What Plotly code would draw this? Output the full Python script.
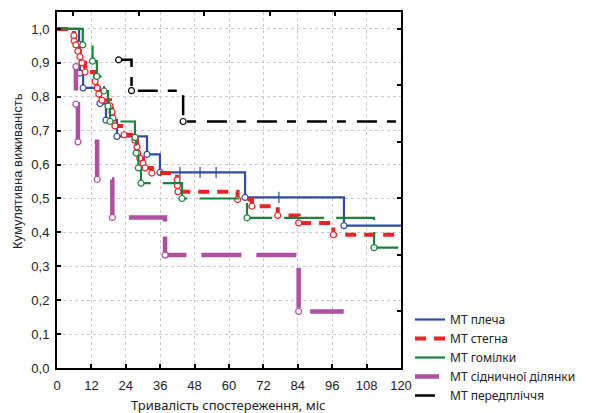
import plotly.graph_objects as go

# ---- data ----
blue_t = [0, 7.7, 8.0, 9.1, 15.0, 17.1, 20.9, 31.4, 35.9, 65.6, 100.1, 120]
blue_s = [1.0, 0.955, 0.87, 0.826, 0.78, 0.731, 0.683, 0.63, 0.577, 0.503, 0.42, 0.42]
blue_cens_t = [42.9, 49.9, 55.5, 77.4]
blue_cens_s = [0.577, 0.577, 0.577, 0.503]

red_t = [0, 5.9, 6.0, 6.6, 7.3, 8.0, 8.7, 9.8, 13.3, 14.0, 14.6, 15.7, 18.5, 19.2, 19.5,
         20.2, 23.4, 27.2, 27.9, 28.2, 28.9, 30.0, 30.7, 33.1, 41.9, 42.0, 42.2, 63.0,
         68.0, 77.0, 84.3, 96.4, 120]
red_s = [1.0, 0.98, 0.965, 0.953, 0.935, 0.918, 0.9, 0.873, 0.845, 0.826, 0.808, 0.79,
         0.773, 0.755, 0.737, 0.714, 0.688, 0.672, 0.652, 0.634, 0.619, 0.604, 0.59,
         0.575, 0.555, 0.538, 0.52, 0.497, 0.477, 0.45, 0.428, 0.393, 0.393]

green_t = [0, 9.0, 12.4, 13.9, 16.4, 17.8, 18.5, 27.2, 27.6, 28.4, 29.3, 43.6, 66.3, 110.6, 120]
green_s = [1.0, 0.953, 0.905, 0.86, 0.817, 0.772, 0.727, 0.68, 0.634, 0.59, 0.545, 0.5,
           0.443, 0.355, 0.355]

mag_t = [6.6, 6.6, 7.3, 14.0, 19.3, 37.7, 84.3, 100.0]
mag_s = [0.889, 0.778, 0.667, 0.556, 0.444, 0.333, 0.167, 0.167]

blk_t = [21.5, 26.0, 44.0, 120]
blk_s = [0.909, 0.818, 0.727, 0.727]

x_ticks = [0, 12, 24, 36, 48, 60, 72, 84, 96, 108, 120]
y_ticks = [0.0, 0.1, 0.2, 0.3, 0.4, 0.5, 0.6, 0.7, 0.8, 0.9, 1.0]
top_ticks = [5.7, 28.6, 51.3, 74.3, 97.0]
right_ticks = [0.1667, 0.3333, 0.5, 0.6667, 0.8333, 1.0]

names = ["МТ плеча", "МТ стегна", "МТ гомілки", "МТ сідничної ділянки", "МТ передпліччя"]

C_BLUE = "#2f4ea3"
C_RED = "#ee2224"
C_GREEN = "#17843a"
C_MAG = "#b04fa4"
C_BLK = "#000000"

fig = go.Figure()

def add_curve(t, s, color, width, dash, name, circle_idx):
    fig.add_trace(go.Scatter(x=t, y=s, mode="lines", line_shape="hv",
                             line=dict(color=color, width=width, dash=dash),
                             name=name, hoverinfo="skip"))
    fig.add_trace(go.Scatter(x=[t[i] for i in circle_idx], y=[s[i] for i in circle_idx],
                             mode="markers", showlegend=False, hoverinfo="skip",
                             marker=dict(symbol="circle", size=6, color="white",
                                         line=dict(color=color, width=1.2))))

mag_dash = "24px,15px," + ",".join(["40px,15px"] * 10)

add_curve(blue_t, blue_s, C_BLUE, 2.2, "solid", names[0], range(1, len(blue_t) - 1))
fig.add_trace(go.Scatter(x=blue_cens_t, y=blue_cens_s, mode="markers", showlegend=False,
                         hoverinfo="skip",
                         marker=dict(symbol="line-ns", size=8,
                                     line=dict(color=C_BLUE, width=1.2))))
add_curve(red_t, red_s, C_RED, 4, "11px,8px", names[1], range(1, len(red_t) - 1))
add_curve(green_t, green_s, C_GREEN, 2.2, "40px,12px", names[2], range(1, len(green_t) - 1))
add_curve(mag_t, mag_s, C_MAG, 4.5, mag_dash, names[3], range(0, len(mag_t) - 1))
add_curve(blk_t, blk_s, C_BLK, 2.5, "20px,10px,9px,11px", names[4], range(0, len(blk_t) - 1))

# helper traces so the top/right tick axes are drawn
fig.add_trace(go.Scatter(x=[None], y=[None], xaxis="x2", yaxis="y", showlegend=False,
                         hoverinfo="skip"))
fig.add_trace(go.Scatter(x=[None], y=[None], xaxis="x", yaxis="y2", showlegend=False,
                         hoverinfo="skip"))

tickfont = dict(family="Liberation Sans, Arial, sans-serif", size=13, color="#222")

fig.update_layout(
    width=590, height=413,
    margin=dict(l=57, r=189, t=12, b=45, autoexpand=False),
    paper_bgcolor="white", plot_bgcolor="white",
    separators=", ",
    showlegend=True,
    legend=dict(x=(410 - 57) / 344, xanchor="left", y=(368 - 305) / 356, yanchor="top",
                font=dict(family="Noto Sans, sans-serif", size=12, color="#222"),
                bgcolor="rgba(0,0,0,0)", borderwidth=0, tracegroupgap=0,
                itemwidth=30),
    xaxis=dict(range=[0, 120], tickvals=x_ticks, ticktext=[str(v) for v in x_ticks],
               showgrid=True, gridcolor="#c9c9c9", griddash="dot", gridwidth=1,
               showline=True, linecolor="black", linewidth=2, mirror=True,
               ticks="inside", ticklen=4, tickwidth=1.5, tickcolor="black",
               tickfont=tickfont, zeroline=False, ticklabelstandoff=4),
    yaxis=dict(range=[0, 1.05], tickvals=y_ticks, tickformat=".1f",
               showgrid=True, gridcolor="#c9c9c9", griddash="dot", gridwidth=1,
               showline=True, linecolor="black", linewidth=2, mirror=True,
               ticks="inside", ticklen=4, tickwidth=1.5, tickcolor="black",
               tickfont=tickfont, zeroline=False, ticklabelstandoff=3),
    xaxis2=dict(overlaying="x", side="top", anchor="y", range=[0, 120],
                tickvals=top_ticks, showticklabels=False, ticks="inside", ticklen=4,
                tickwidth=1.5, tickcolor="black", showgrid=False, showline=False,
                zeroline=False),
    yaxis2=dict(overlaying="y", side="right", anchor="x", range=[0, 1.05],
                tickvals=right_ticks, showticklabels=False, ticks="inside", ticklen=4,
                tickwidth=1.5, tickcolor="black", showgrid=False, showline=False,
                zeroline=False),
    annotations=[
        dict(text="Кумулятивна виживаність", textangle=-90,
             xref="paper", yref="paper", x=-40 / 344, y=(368 - 171) / 356,
             xanchor="center", yanchor="middle", showarrow=False,
             font=dict(family="Liberation Sans, Arial, sans-serif", size=13, color="#222")),
        dict(text="Тривалість спостереження, міс",
             xref="paper", yref="paper", x=(228 - 57) / 344, y=(368 - 405) / 356,
             xanchor="center", yanchor="middle", showarrow=False,
             font=dict(family="Noto Sans, sans-serif", size=13, color="#222")),
    ],
)

fig.write_html("out.html")
